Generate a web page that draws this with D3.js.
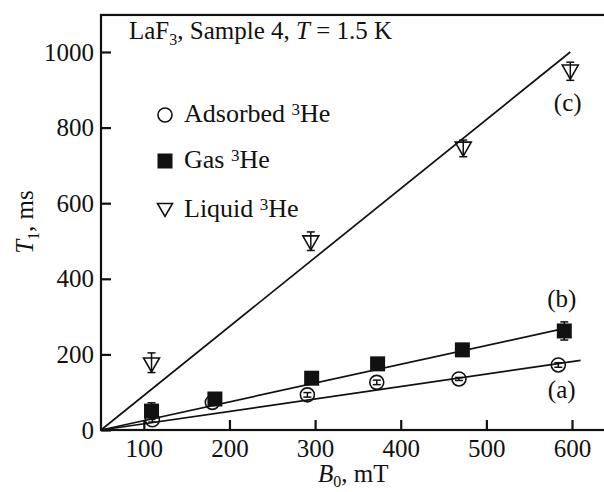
<!DOCTYPE html>
<html>
<head>
<meta charset="utf-8">
<script src="https://cdn.jsdelivr.net/npm/d3@7/dist/d3.min.js"></script>
<style>
body { margin: 0; background: #fff; }
text { font-family: 'Liberation Serif', 'Times New Roman', serif; fill: #111; }
</style>
</head>
<body>
<svg id="chart" width="604" height="492"></svg>
<script>

// data (B0 in mT, T1 in ms)
var adsB = [110, 180, 291, 372, 468, 584];
var adsT = [27, 73, 93, 126, 135, 172];
var adsErr = [6, 4, 6, 6, 4, 6];

var gasB = [109, 183, 296, 373, 472, 591];
var gasT = [50, 82, 137, 175, 212, 262];
var gasErr = [22, 14, 14, 16, 16, 24];

var liqB = [109, 295, 473, 598];
var liqT = [172, 495, 743, 947];
var liqErrUp = [32, 29, 24, 26];
var liqErrDown = [20, 20, 20, 22];

// straight fits (a), (b), (c)
var fitAB = [50, 610], fitAT = [0, 184];
var fitBB = [50, 598], fitBT = [0, 272];
var fitCB = [50, 598], fitCT = [0, 1000];

var curveNames = ['(a)', '(b)', '(c)'];
var curveNameB = [588, 588, 595];
var curveNameT = [85, 326, 844];

var legendNames = ['Adsorbed', 'Gas', 'Liquid'];

var xTicks = [100, 200, 300, 400, 500, 600];
var yTicks = [0, 200, 400, 600, 800, 1000];

var serif = "'Liberation Serif', 'Times New Roman', serif";

var svg = d3.select('#chart');
var g = svg.append('g');

var xScale = d3.scaleLinear().domain([50, 600]).range([101, 572]);
var yScale = d3.scaleLinear().domain([0, 1000]).range([430, 52]);

var yTop = yScale(1098);

// frame (right side runs off the picture)
g.append('rect')
	.attr('x', xScale(50))
	.attr('y', yTop)
	.attr('width', 620 - xScale(50))
	.attr('height', yScale(0) - yTop)
	.style('fill', 'none')
	.attr('stroke', '#111')
	.attr('stroke-width', 2.2);

var xAxis = g.append('g')
	.attr('transform', 'translate(0,' + yScale(0) + ')')
	.call(d3.axisBottom(xScale).tickValues(xTicks).tickFormat(d3.format('d'))
		.tickSizeInner(-10).tickSizeOuter(0).tickPadding(9));

var yAxis = g.append('g')
	.attr('transform', 'translate(' + xScale(50) + ',0)')
	.call(d3.axisLeft(yScale).tickValues(yTicks).tickFormat(d3.format('d'))
		.tickSizeInner(-10).tickSizeOuter(0).tickPadding(7));

[xAxis, yAxis].forEach(function(a) {
	a.attr('font-family', serif).attr('font-size', 25);
	a.select('.domain').remove();
	a.selectAll('line').attr('stroke', '#111').attr('stroke-width', 2.2);
	a.selectAll('text').attr('fill', '#111');
});

// fit lines
var line = d3.line()
	.x(function(d) { return xScale(d[0]); })
	.y(function(d) { return yScale(d[1]); });

[[fitAB, fitAT], [fitBB, fitBT], [fitCB, fitCT]].forEach(function(f) {
	g.append('path')
		.datum(d3.zip(f[0], f[1]))
		.attr('d', line)
		.style('fill', 'none')
		.attr('stroke', '#111')
		.attr('stroke-width', 1.7);
});

function triPath(cx, cy, w, h) {
	return 'M' + (cx - w/2) + ',' + (cy - h/2) + 'L' + (cx + w/2) + ',' + (cy - h/2) + 'L' + cx + ',' + (cy + h/2) + 'Z';
}

function drawErr(B, T, Eup, Edown) {
	for (var i = 0; i < B.length; i++) {
		var x = xScale(B[i]);
		var y1 = yScale(T[i] + Eup[i]);
		var y2 = yScale(T[i] - Edown[i]);
		g.append('line')
			.attr('x1', x).attr('y1', y1).attr('x2', x).attr('y2', y2)
			.attr('stroke', '#111').attr('stroke-width', 1.5);
		g.append('line')
			.attr('x1', x - 4).attr('y1', y1).attr('x2', x + 4).attr('y2', y1)
			.attr('stroke', '#111').attr('stroke-width', 1.5);
		g.append('line')
			.attr('x1', x - 4).attr('y1', y2).attr('x2', x + 4).attr('y2', y2)
			.attr('stroke', '#111').attr('stroke-width', 1.5);
	}
}

// adsorbed: open circles
g.selectAll('circle.ads')
	.data(d3.zip(adsB, adsT))
	.enter().append('circle')
	.attr('class', 'ads')
	.attr('cx', function(d) { return xScale(d[0]); })
	.attr('cy', function(d) { return yScale(d[1]); })
	.attr('r', 7)
	.style('fill', 'none')
	.attr('stroke', '#111')
	.attr('stroke-width', 1.6);
drawErr(adsB, adsT, adsErr, adsErr);

// gas: filled squares
drawErr(gasB, gasT, gasErr, gasErr);
g.selectAll('rect.gas')
	.data(d3.zip(gasB, gasT))
	.enter().append('rect')
	.attr('class', 'gas')
	.attr('x', function(d) { return xScale(d[0]) - 7.5; })
	.attr('y', function(d) { return yScale(d[1]) - 7.5; })
	.attr('width', 15)
	.attr('height', 15)
	.style('fill', '#111');

// liquid: open down triangles
g.selectAll('path.liq')
	.data(d3.zip(liqB, liqT))
	.enter().append('path')
	.attr('class', 'liq')
	.attr('d', function(d) { return triPath(xScale(d[0]), yScale(d[1]), 16, 14); })
	.style('fill', 'none')
	.attr('stroke', '#111')
	.attr('stroke-width', 1.6);
drawErr(liqB, liqT, liqErrUp, liqErrDown);

// curve names
for (var i = 0; i < curveNames.length; i++) {
	g.append('text')
		.attr('x', xScale(curveNameB[i]))
		.attr('y', yScale(curveNameT[i]))
		.text(curveNames[i])
		.style('font-size', '25px')
		.attr('text-anchor', 'middle');
}

// title
var title = g.append('text')
	.attr('x', 129)
	.attr('y', 39)
	.style('font-size', '25px');
title.append('tspan').text('LaF');
title.append('tspan').text('3').style('font-size', '16px').attr('dy', 6);
title.append('tspan').text(', Sample 4, ').attr('dy', -6);
title.append('tspan').text('T').style('font-style', 'italic');
title.append('tspan').text(' = 1.5 K');

// legend
var legY = [115, 161, 210];

g.append('circle')
	.attr('cx', 165).attr('cy', legY[0]).attr('r', 7)
	.style('fill', 'none').attr('stroke', '#111').attr('stroke-width', 1.6);
g.append('rect')
	.attr('x', 157.5).attr('y', legY[1] - 7.5).attr('width', 15).attr('height', 15)
	.style('fill', '#111');
g.append('path')
	.attr('d', triPath(165, legY[2], 15, 13))
	.style('fill', 'none').attr('stroke', '#111').attr('stroke-width', 1.6);

for (var j = 0; j < legendNames.length; j++) {
	var t = g.append('text')
		.attr('x', 184)
		.attr('y', legY[j] + 7)
		.style('font-size', '26px');
	t.append('tspan').text(legendNames[j] + ' ');
	t.append('tspan').text('3').style('font-size', '17px').attr('dy', -7);
	t.append('tspan').text('He').attr('dy', 7);
}

// axis titles
var xt = g.append('text')
	.attr('x', 318)
	.attr('y', 482)
	.style('font-size', '25px');
xt.append('tspan').text('B').style('font-style', 'italic');
xt.append('tspan').text('0').style('font-size', '16px').attr('dy', 5);
xt.append('tspan').text(', mT').attr('dy', -5);

var yt = g.append('text')
	.attr('transform', 'translate(33,222) rotate(-90)')
	.attr('text-anchor', 'middle')
	.style('font-size', '25px');
yt.append('tspan').text('T').style('font-style', 'italic');
yt.append('tspan').text('1').style('font-size', '16px').attr('dy', 6);
yt.append('tspan').text(', ms').attr('dy', -6);

</script>
</body>
</html>
